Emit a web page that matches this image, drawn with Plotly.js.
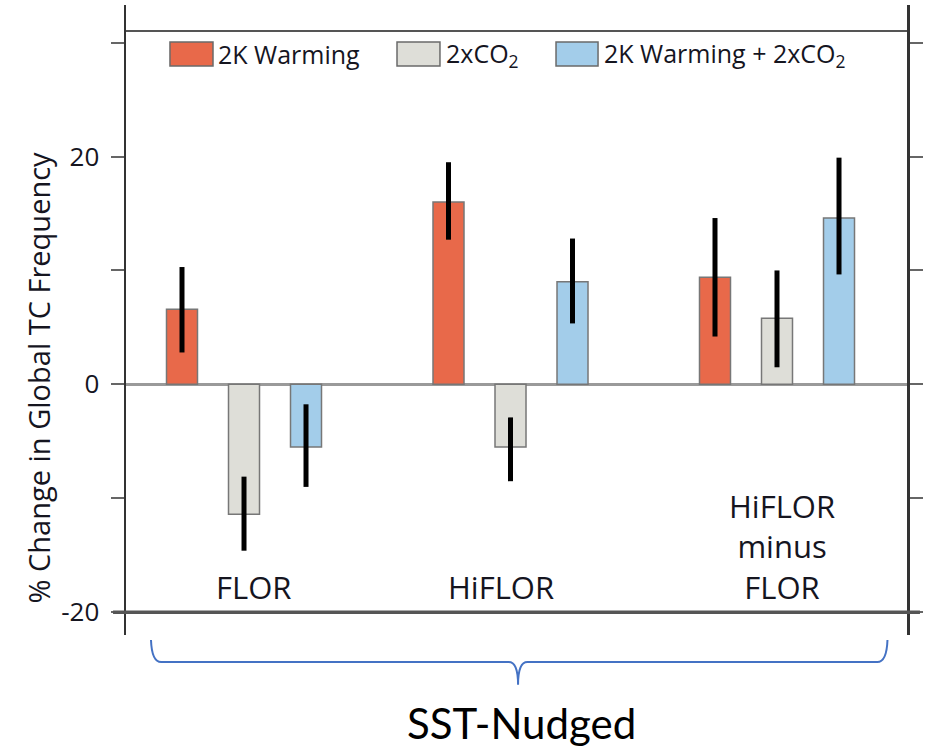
<!DOCTYPE html>
<html>
<head>
<meta charset="utf-8">
<script src="https://cdn.plot.ly/plotly-3.0.1.min.js"></script>
<style>
  html, body { margin: 0; padding: 0; background: #ffffff; }
  #chart { width: 925px; height: 748px; }
</style>
</head>
<body>
<div id="chart"></div>
<script>
// ---- data ----
const groups = ['FLOR', 'HiFLOR', 'HiFLOR minus FLOR'];
const groupLabels = ['FLOR', 'HiFLOR', 'HiFLOR<br>minus<br>FLOR'];
const seriesNames = ['2K Warming', '2xCO<sub>2</sub>', '2K Warming + 2xCO<sub>2</sub>'];

const warming      = [6.6, 16.0, 9.4];
const co2          = [-11.4, -5.5, 5.8];
const warmingCo2   = [-5.5, 9.0, 14.6];

// upper / lower ends of the black uncertainty bars
const warmingHigh    = [10.3, 19.5, 14.6];
const warmingLow     = [2.8, 12.7, 4.2];
const co2High        = [-8.1, -2.9, 10.0];
const co2Low         = [-14.6, -8.5, 1.5];
const warmingCo2High = [-1.75, 12.8, 19.9];
const warmingCo2Low  = [-9.0, 5.35, 9.65];

const yTickVals = [-20, 0, 20];
const yTickText = ['-20', '0', '20'];
const yMinorStep = 10;

const yTitle = '% Change in Global TC Frequency';
const bracketLabel = 'SST-Nudged';

// ---- styles ----
const colors = ['#E8694A', '#DEDED8', '#A3CDEA'];
const FONT = 'Open Sans, Noto Sans, DejaVu Sans, sans-serif';
const TXT = '#15151f';

const values = [warming, co2, warmingCo2];
const highs = [warmingHigh, co2High, warmingCo2High];
const lows = [warmingLow, co2Low, warmingCo2Low];

const traces = values.map((vals, i) => ({
  type: 'bar',
  name: seriesNames[i],
  x: groups,
  y: vals,
  marker: { color: colors[i], line: { color: '#777777', width: 1.5 } },
  error_y: {
    type: 'data',
    symmetric: false,
    array: highs[i].map((h, k) => h - vals[k]),
    arrayminus: lows[i].map((l, k) => vals[k] - l),
    color: '#000000',
    thickness: 5,
    width: 0
  },
  hoverinfo: 'skip'
}));

// custom legend (large swatches, as in the reference)
const legendSwatchX = [[0.0563, 0.1114], [0.347, 0.402], [0.5506, 0.6044]];
const legendTextX = [0.1152, 0.4072, 0.6095];

const shapes = [];
const annotations = [];

legendSwatchX.forEach((sx, i) => {
  shapes.push({
    type: 'rect', xref: 'paper', yref: 'paper',
    x0: sx[0], x1: sx[1], y0: 0.9032, y1: 0.9413,
    fillcolor: colors[i], line: { color: '#6a6a6a', width: 1.5 }, layer: 'above'
  });
  annotations.push({
    xref: 'paper', yref: 'paper', x: legendTextX[i], y: 0.9215,
    xanchor: 'left', yanchor: 'middle', showarrow: false,
    text: seriesNames[i], font: { family: FONT, size: 25, color: TXT }
  });
});

// frame lines
shapes.push({ type: 'line', xref: 'paper', yref: 'paper', x0: 0, x1: 1, y0: 0.9587, y1: 0.9587,
  line: { color: '#555555', width: 2 }, layer: 'above' });
shapes.push({ type: 'line', xref: 'paper', yref: 'y', x0: -0.0166, x1: 1.0166, y0: -20, y1: -20,
  line: { color: '#555555', width: 3.5 }, layer: 'above' });

// bracket below the plot
shapes.push({
  type: 'path', xref: 'paper', yref: 'paper',
  path: 'M 0.032,-0.008 Q 0.033,-0.043 0.045,-0.043 L 0.490,-0.043 Q 0.502,-0.043 0.502,-0.079 ' +
        'Q 0.502,-0.043 0.514,-0.043 L 0.962,-0.043 Q 0.974,-0.043 0.975,-0.008',
  line: { color: '#4472C4', width: 2 }, layer: 'above'
});

// group labels inside the plot
const labelShift = [9, -10, 5];
groups.forEach((g, i) => {
  annotations.push({
    xref: 'x', yref: 'y', x: g, y: -20, yshift: 2, xshift: labelShift[i],
    xanchor: 'center', yanchor: 'bottom', showarrow: false,
    text: groupLabels[i], font: { family: FONT, size: 31, color: TXT }
  });
});

// y axis title
annotations.push({
  xref: 'paper', yref: 'paper', x: -0.112, y: 0.408,
  xanchor: 'center', yanchor: 'middle', showarrow: false, textangle: -90,
  text: yTitle, font: { family: FONT, size: 29, color: TXT }
});

// bracket label
annotations.push({
  xref: 'paper', yref: 'paper', x: 0.507, y: -0.139,
  xanchor: 'center', yanchor: 'middle', showarrow: false,
  text: bracketLabel, font: { family: 'Lato, Open Sans, sans-serif', size: 42, color: '#000000' }
});

const layout = {
  width: 925, height: 748,
  margin: { l: 126, r: 18, t: 5, b: 113 },
  paper_bgcolor: '#ffffff', plot_bgcolor: '#ffffff',
  showlegend: false,
  barmode: 'group', bargap: 0.302, bargroupgap: 0.5,
  xaxis: {
    type: 'category', range: [-0.4428, 2.4878],
    showticklabels: false, ticks: '', showline: false, showgrid: false, zeroline: false
  },
  yaxis: {
    range: [-22, 33.3],
    tickmode: 'array', tickvals: yTickVals, ticktext: yTickText,
    ticks: 'outside', ticklen: 13, tickwidth: 2, tickcolor: '#666666',
    minor: { dtick: yMinorStep, tick0: 0, ticks: 'outside', ticklen: 13, tickwidth: 2, tickcolor: '#666666', showgrid: false },
    ticklabelstandoff: 6,
    showline: true, linecolor: '#333333', linewidth: 2.5, mirror: 'ticks',
    showgrid: false,
    zeroline: true, zerolinecolor: '#9a9a9a', zerolinewidth: 2.5,
    tickfont: { family: FONT, size: 26, color: TXT }
  },
  shapes: shapes,
  annotations: annotations
};

Plotly.newPlot('chart', traces, layout, { staticPlot: true, displayModeBar: false });
</script>
</body>
</html>
